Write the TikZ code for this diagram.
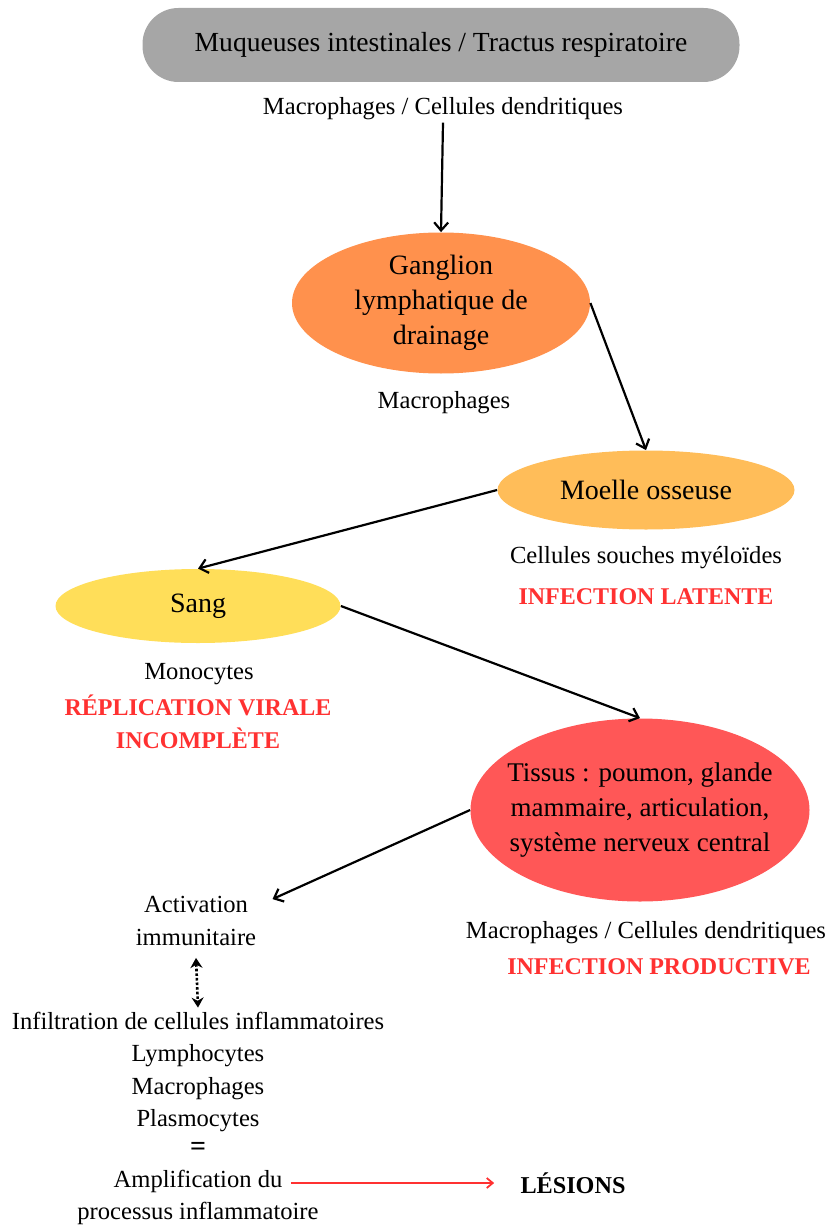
\documentclass[tikz,border=0pt]{standalone}
\usepackage{fontspec}
\setmainfont{Liberation Serif}
\usetikzlibrary{shapes.geometric, arrows.meta}

\definecolor{grisbox}{HTML}{A6A6A6}
\definecolor{orangeg}{HTML}{FF914D}
\definecolor{orangem}{HTML}{FFBD59}
\definecolor{jaunes}{HTML}{FFDE59}
\definecolor{rouget}{HTML}{FF5757}
\definecolor{rougetxt}{HTML}{FF3131}

\tikzset{
	organe/.style={ellipse, inner sep=0pt},
	orgtxt/.style={align=center, inner sep=0pt, font={\fontsize{14}{17.5}\selectfont}},
	etiq/.style={align=center, inner sep=1pt, font={\fontsize{12.3}{16.25}\selectfont}},
	alerte/.style={etiq, text=rougetxt, font={\fontsize{12}{16.5}\selectfont\bfseries}},
	fleche/.style={-{Straight Barb[length=4pt, width=7pt]}, line width=1.1pt},
}

\begin{document}
\begin{tikzpicture}[x=0.5pt, y=-0.5pt]
	\useasboundingbox (0,0) rectangle (830,1225);

	% entree
	\node[rounded corners=18pt, fill=grisbox, minimum width=298.5pt, minimum height=37pt,
		font={\fontsize{13.8}{17}\selectfont}] (muq) at (441,45) {Muqueuses intestinales / Tractus respiratoire};
	\node[etiq] (mac1) at (443,109) {Macrophages / Cellules dendritiques};

	% organes
	\node[organe, fill=orangeg, minimum width=149pt, minimum height=70.5pt,
		label={[orgtxt]center:{Ganglion\\lymphatique de\\drainage}}] (gang) at (441,303) {};
	\node[etiq] (mac2) at (444,403) {Macrophages};

	\node[organe, fill=orangem, minimum width=148.5pt, minimum height=39.5pt,
		label={[orgtxt]center:Moelle osseuse}] (moelle) at (646,490) {};
	\node[etiq] (souch) at (646,558) {Cellules souches myéloïdes};
	\node[alerte] (lat) at (646,597) {INFECTION LATENTE};

	\node[organe, fill=jaunes, minimum width=142.5pt, minimum height=37pt,
		label={[orgtxt]center:Sang}] (sang) at (198,606) {};
	\node[etiq] (mono) at (199,674) {Monocytes};
	\node[alerte] (repl) at (198,722) {RÉPLICATION VIRALE\\INCOMPLÈTE};

	\node[organe, fill=rouget, minimum width=169.5pt, minimum height=91.5pt,
		label={[orgtxt, font={\fontsize{13.5}{17.5}\selectfont}]center:{Tissus : poumon, glande\\mammaire, articulation,\\système nerveux central}}]
		(tissus) at (640,810) {};
	\node[etiq] (mac3) at (646,933) {Macrophages / Cellules dendritiques};
	\node[alerte] (prod) at (659,967) {INFECTION PRODUCTIVE};

	% reponse
	\node[etiq] (act) at (196,921) {Activation\\immunitaire};
	\node[etiq] (infil) at (198,1072) {Infiltration de cellules inflammatoires\\Lymphocytes\\Macrophages\\Plasmocytes};
	\node[etiq, font={\fontsize{14}{15}\selectfont\bfseries}] (egal) at (198,1149) {=};
	\node[etiq] (amp1) at (198,1181) {Amplification du};
	\node[etiq] (amp2) at (198,1213) {processus inflammatoire};
	\node[etiq, font={\fontsize{12.1}{15}\selectfont\bfseries}] (les) at (573,1183) {LÉSIONS};

	% liens
	\draw[fleche] (mac1.south) -- (gang.north);
	\draw[fleche] (gang.east) -- (moelle.north);
	\draw[fleche] (moelle.west) -- (sang.north);
	\draw[fleche] (sang.east) -- (tissus.north);
	\draw[fleche] (tissus.west) -- ([xshift=7pt, yshift=-2.5pt]act.north east);
	\draw[{Stealth[length=5pt, width=6pt]}-{Stealth[length=5pt, width=6pt]}, line width=1.3pt, densely dotted]
		([yshift=-5pt]act.south) -- ([yshift=1pt]infil.north);
	\draw[-{Straight Barb[length=3pt, width=5pt]}, rougetxt, line width=0.9pt]
		([xshift=3pt]amp1.east |- les.west) -- ([xshift=-12pt]les.west);
\end{tikzpicture}
\end{document}
